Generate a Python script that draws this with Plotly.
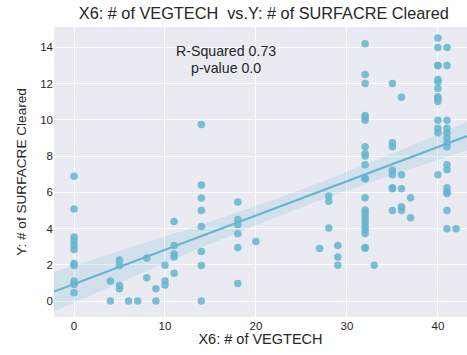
import numpy as np
import plotly.graph_objects as go

# Data (x = # of VEGTECH, y = # of SURFACRE Cleared)
x0 = [0]*11
y0 = [6.88, 5.08, 3.54, 3.28, 3.06, 2.84, 2.07, 1.96, 1.10, 0.92, 0.46]
x_small = [4, 4, 5, 5, 5, 5, 6, 7, 8, 8, 9, 9, 10, 10, 10, 11, 11, 11, 11, 11]
y_small = [1.10, 0, 2.26, 1.96, 0.86, 0.68, 0, 0, 2.37, 1.28, 0.68, 0, 1.98, 1.10, 0.88,
           4.39, 3.06, 2.60, 2.43, 1.53]
x_mid = [14]*8 + [18]*6 + [20]
y_mid = [9.74, 6.40, 5.69, 4.99, 4.11, 2.73, 1.96, 0,
         5.47, 4.50, 4.22, 3.72, 2.95, 0.97, 3.28]
x_27_33 = [27, 28, 28, 28, 29, 29, 29] + [32]*23 + [33]
y_27_33 = [2.90, 5.79, 5.50, 4.03, 3.07, 2.43, 1.97,
           14.2, 12.5, 12.0, 10.24, 10.1, 9.98, 8.51, 8.14, 8.0, 7.52, 6.78, 6.75, 5.70,
           5.02, 4.87, 4.69, 4.50, 4.32, 4.10, 3.92, 3.73, 2.96, 2.92, 1.97]
x_35_37 = [35]*8 + [36]*5 + [37]*2
y_35_37 = [12.0, 8.73, 8.51, 7.22, 6.97, 6.25, 6.20, 5.0,
           11.25, 6.97, 6.20, 5.20, 5.0, 5.70, 4.60]
x_40_42 = [40]*14 + [41]*15 + [42]
y_40_42 = [14.52, 13.99, 13.0, 13.0, 12.22, 12.08, 11.73, 11.27, 11.16, 11.01, 9.98, 9.54, 9.28, 6.97,
           13.99, 13.0, 9.98, 9.54, 9.28, 8.99, 8.73, 8.51, 7.52, 7.24, 6.25, 6.01, 5.94, 5.0, 3.99,
           3.99]

xs = np.array(x0 + x_small + x_mid + x_27_33 + x_35_37 + x_40_42, dtype=float)
ys = np.array(y0 + y_small + y_mid + y_27_33 + y_35_37 + y_40_42, dtype=float)

title = "X6: # of VEGTECH  vs.Y: # of SURFACRE Cleared"
xlabel = "X6: # of VEGTECH"
ylabel = "Y: # of SURFACRE Cleared"
annot_lines = ["R-Squared 0.73", "p-value 0.0"]
color = "#64B5CD"

# Regression fit and 95% confidence band computed from the data
slope, intercept = np.polyfit(xs, ys, 1)
n = len(xs)
resid = ys - (slope * xs + intercept)
s = np.sqrt(np.sum(resid**2) / (n - 2))
xbar = xs.mean()
sxx = np.sum((xs - xbar)**2)
xr = np.linspace(-2.2, 43.2, 100)
yr = slope * xr + intercept
half = 1.98 * s * np.sqrt(1/n + (xr - xbar)**2 / sxx)

fig = go.Figure()
fig.add_trace(go.Scatter(x=np.concatenate([xr, xr[::-1]]),
                         y=np.concatenate([yr + half, (yr - half)[::-1]]),
                         fill="toself", fillcolor="rgba(100,181,205,0.18)",
                         line=dict(width=0), hoverinfo="skip", showlegend=False))
fig.add_trace(go.Scatter(x=xs, y=ys, mode="markers",
                         marker=dict(color=color, size=7.5, opacity=0.85, line=dict(width=0)),
                         showlegend=False))
fig.add_trace(go.Scatter(x=xr, y=yr, mode="lines",
                         line=dict(color=color, width=2.2), showlegend=False))

font = "Liberation Sans, Arial, sans-serif"
fig.update_layout(
    width=467, height=355,
    margin=dict(l=54, r=0, t=27, b=38),
    paper_bgcolor="white", plot_bgcolor="#EAEAF2",
    font=dict(family=font, color="#262626"),
    title=dict(text=title, x=0.565, xanchor="center", y=0.962, yanchor="middle",
               font=dict(size=16.3, color="#262626")),
    showlegend=False,
)
fig.update_xaxes(range=[-2.2, 43.2], tickvals=[0, 10, 20, 30, 40],
                 showgrid=True, gridcolor="white", gridwidth=1.2, zeroline=False,
                 showline=False, ticks="", tickfont=dict(size=11.5, color="#262626"),
                 title=dict(text=xlabel, font=dict(size=14.5), standoff=3))
fig.update_yaxes(range=[-0.88, 15.12], tickvals=[0, 2, 4, 6, 8, 10, 12, 14],
                 showgrid=True, gridcolor="white", gridwidth=1.2, zeroline=False,
                 showline=False, ticks="", tickfont=dict(size=11.5, color="#262626"),
                 title=dict(text=ylabel, font=dict(size=13.6), standoff=10))
for txt, yy in zip(annot_lines, [13.80, 12.84]):
    fig.add_annotation(x=16.7, y=yy, xref="x", yref="y", text=txt, showarrow=False,
                       font=dict(size=14.2, color="#262626"), align="center",
                       height=16, borderpad=0)

fig.write_html("out.html")
